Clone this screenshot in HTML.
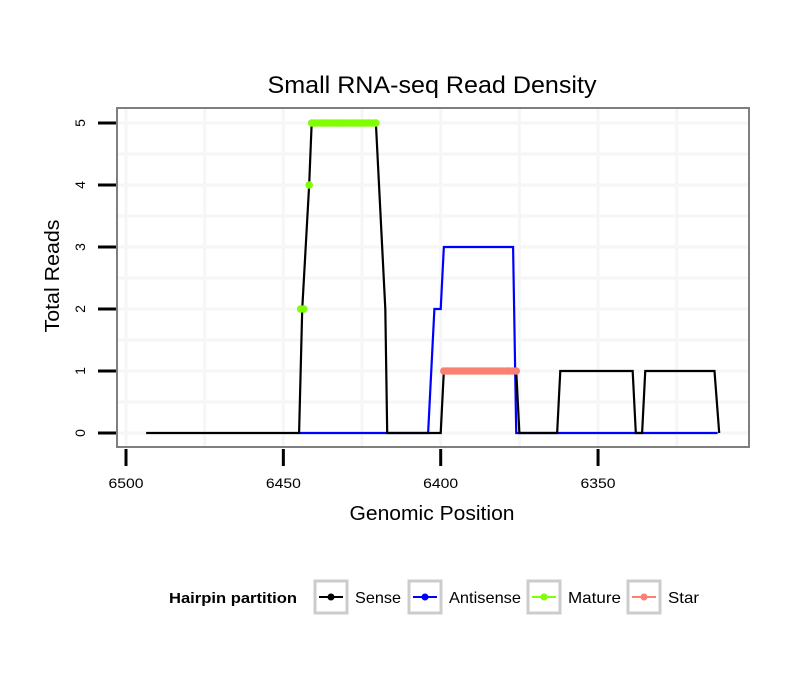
<!DOCTYPE html>
<html><head><meta charset="utf-8"><style>
body{margin:0;background:#fff;}
svg{display:block;font-family:"Liberation Sans",sans-serif;}
</style></head><body>
<svg id="chart" width="810" height="690">
<g id="grid"></g>
<rect x="117" y="108" width="632" height="339" fill="none" stroke="#7f7f7f" stroke-width="2"/>
<g id="axes"></g>
<g id="marks"></g>
<text x="432" y="93" text-anchor="middle" font-size="24" textLength="329" lengthAdjust="spacingAndGlyphs">Small RNA-seq Read Density</text>
<text x="432" y="520" text-anchor="middle" font-size="20" textLength="165" lengthAdjust="spacingAndGlyphs">Genomic Position</text>
<text transform="translate(59,276) rotate(-90)" text-anchor="middle" font-size="20" textLength="113" lengthAdjust="spacingAndGlyphs">Total Reads</text>
<g>
<text x="169" y="603" font-size="15" font-weight="bold" textLength="128" lengthAdjust="spacingAndGlyphs">Hairpin partition</text>
<g><rect x="315" y="581" width="32" height="32" fill="#fff" stroke="#cccccc" stroke-width="3"/><line x1="319" x2="343" y1="597" y2="597" stroke="#000" stroke-width="2"/><circle cx="331" cy="597" r="3.5" fill="#000"/><text x="355" y="603" font-size="16" textLength="46" lengthAdjust="spacingAndGlyphs">Sense</text></g>
<g><rect x="409" y="581" width="32" height="32" fill="#fff" stroke="#cccccc" stroke-width="3"/><line x1="413" x2="437" y1="597" y2="597" stroke="#0000ff" stroke-width="2"/><circle cx="425" cy="597" r="3.5" fill="#0000ff"/><text x="449" y="603" font-size="16" textLength="72" lengthAdjust="spacingAndGlyphs">Antisense</text></g>
<g><rect x="528" y="581" width="32" height="32" fill="#fff" stroke="#cccccc" stroke-width="3"/><line x1="532" x2="556" y1="597" y2="597" stroke="#7fff00" stroke-width="2"/><circle cx="544" cy="597" r="3.5" fill="#7fff00"/><text x="568" y="603" font-size="16" textLength="53" lengthAdjust="spacingAndGlyphs">Mature</text></g>
<g><rect x="628" y="581" width="32" height="32" fill="#fff" stroke="#cccccc" stroke-width="3"/><line x1="632" x2="656" y1="597" y2="597" stroke="#fa8072" stroke-width="2"/><circle cx="644" cy="597" r="3.5" fill="#fa8072"/><text x="668" y="603" font-size="16" textLength="31" lengthAdjust="spacingAndGlyphs">Star</text></g>
</g>
</svg>
<script>
const xTicks=[6500,6450,6400,6350];
const xMinor=[6475,6425,6375,6325];
const yTicks=[0,1,2,3,4,5];
const senseX=[6493.6,6445,6444,6441.8,6441,6420.6,6417.6,6417,6400,6399,6376,6375,6363,6362,6339,6338,6336,6335,6313,6311.5];
const senseY=[0,0,2,4,5,5,2,0,0,1,1,0,0,1,1,0,0,1,1,0];
const antiX=[6445,6404,6402,6400,6399,6377,6376,6312];
const antiY=[0,0,2,2,3,3,0,0];
const matureX=[6444.5,6443.5,6441.8,6441,6440,6439,6438,6437,6436,6435,6434,6433,6432,6431,6430,6429,6428,6427,6426,6425,6424,6423,6422,6421,6420.6];
const matureY=[2,2,4,5,5,5,5,5,5,5,5,5,5,5,5,5,5,5,5,5,5,5,5,5,5];
const starX=[6399,6398,6397,6396,6395,6394,6393,6392,6391,6390,6389,6388,6387,6386,6385,6384,6383,6382,6381,6380,6379,6378,6377,6376];
const starY=[1,1,1,1,1,1,1,1,1,1,1,1,1,1,1,1,1,1,1,1,1,1,1,1];

const NS="http://www.w3.org/2000/svg";
const X=v=>126+(6500-v)*3.147;
const Y=v=>433-v*62;
function mk(tag,attrs,parent){const e=document.createElementNS(NS,tag);for(const k in attrs)e.setAttribute(k,attrs[k]);parent.appendChild(e);return e;}
const grid=document.getElementById('grid'),axes=document.getElementById('axes'),marks=document.getElementById('marks');
mk('rect',{x:117,y:108,width:632,height:339,fill:'#fff'},grid);
xTicks.concat(xMinor).forEach(v=>{const x=X(v);if(x>117&&x<749){const l=mk('line',{x1:x,x2:x,y1:108,y2:447,stroke:'#f6f6f6','stroke-width':3},grid);

}});
for(let i=0;i<=11;i++){const y=Y(i*0.5);if(y>108&&y<447){const l=mk('line',{x1:117,x2:749,y1:y,y2:y,stroke:'#f6f6f6','stroke-width':3},grid);

}}
xTicks.forEach(v=>{const x=X(v);
const t=mk('line',{x1:x,x2:x,y1:449,y2:466,stroke:'#000','stroke-width':3},axes);


const tx=mk('text',{x:x,y:488,'text-anchor':'middle','font-size':14,textLength:35,lengthAdjust:'spacingAndGlyphs'},axes);tx.textContent=v;

});
yTicks.forEach(v=>{const y=Y(v);
const t=mk('line',{x1:98,x2:116,y1:y,y2:y,stroke:'#000','stroke-width':3},axes);


const tx=mk('text',{transform:`translate(85,${y}) rotate(-90)`,'text-anchor':'middle','font-size':14},axes);tx.textContent=v;

});
function line(xs,ys,col,name){const p=mk('polyline',{points:xs.map((v,i)=>X(v)+','+Y(ys[i])).join(' '),fill:'none',stroke:col,'stroke-width':2.2},marks);

}
function pts(xs,ys,col,name){xs.forEach((v,i)=>{const c=mk('circle',{cx:X(v),cy:Y(ys[i]),r:3.8,fill:col},marks);

});}
line(antiX,antiY,'#0000ff','antisense-line');
line(senseX,senseY,'#000000','sense-line');
pts(matureX,matureY,'#7fff00','mature-point');
pts(starX,starY,'#fa8072','star-point');
</script>
</body></html>
